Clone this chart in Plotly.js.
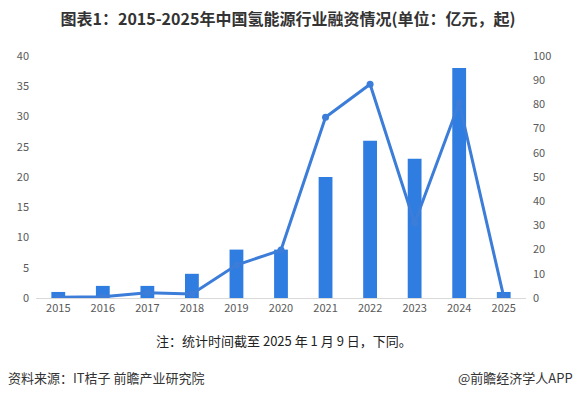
<!DOCTYPE html>
<html><head><meta charset="utf-8">
<script src="https://cdn.plot.ly/plotly-3.0.1.min.js"></script>
<style>html,body{margin:0;padding:0;background:#fff;}#chart{width:576px;height:397px;}</style>
</head><body><div id="chart"></div>
<script>
const years = ['2015','2016','2017','2018','2019','2020','2021','2022','2023','2024','2025'];
const counts = [1, 2, 2, 4, 8, 8, 20, 26, 23, 38, 1];          // 起 (left axis, bars)
const amounts = [0.3, 0.5, 2.2, 1.7, 13.6, 19.8, 74.7, 88.3, 31, 80.6, 0.5]; // 亿元 (right axis, line)
const leftTicks = [0,5,10,15,20,25,30,35,40];
const rightTicks = [0,10,20,30,40,50,60,70,80,90,100];

const tickFont = {family:'"Noto Sans CJK SC", "DejaVu Sans", sans-serif', size:11, color:'#595959'};

const data = [
  {type:'bar', x:years, y:counts, yaxis:'y', marker:{color:'#2F7DE1'}, width:0.31, hoverinfo:'none'},
  {type:'scatter', mode:'lines+markers', x:years, y:amounts, yaxis:'y2',
   line:{color:'#3C7DD9', width:3}, marker:{color:'#3C7DD9', size:7}, hoverinfo:'none'}
];
const layout = {
  width:576, height:397,
  margin:{l:36, r:50, t:56, b:99},
  paper_bgcolor:'#fff', plot_bgcolor:'#fff',
  showlegend:false,
  bargap:0.69,
  title:{text:'<b>图表1：2015-2025年中国氢能源行业融资情况(单位：亿元，起)</b>',
    font:{family:'"Noto Sans CJK SC", sans-serif', size:16, color:'#333'}, x:0.5, xanchor:'center', y:0.952, yanchor:'middle'},
  xaxis:{type:'category', tickfont:tickFont, showgrid:false, showline:true, linecolor:'#D9D9D9', linewidth:1,
    ticks:'', range:[-0.5,10.5], zeroline:false},
  yaxis:{range:[0,40], tickvals:leftTicks, tickfont:tickFont, showgrid:false, zeroline:false, showline:false, ticks:'', ticklabelstandoff:6},
  yaxis2:{range:[0,100], tickvals:rightTicks, overlaying:'y', side:'right', tickfont:tickFont, showgrid:false, zeroline:false, showline:false, ticks:'', ticklabelstandoff:6},
  annotations:[
    {text:'注：统计时间截至 2025 年 1 月 9 日，下同。', xref:'paper', yref:'paper', x:0.5, y:-0.175, xanchor:'center', yanchor:'middle', showarrow:false,
      font:{family:'"Noto Sans CJK SC", sans-serif', size:13, color:'#222'}, xshift:3},
    {text:'资料来源：IT桔子 前瞻产业研究院', xref:'paper', yref:'paper', x:0, y:-0.33, xanchor:'left', yanchor:'middle', showarrow:false, xshift:-30,
      font:{family:'"Noto Sans CJK SC", sans-serif', size:13, color:'#333'}},
    {text:'@前瞻经济学人APP', xref:'paper', yref:'paper', x:1, y:-0.33, xanchor:'right', yanchor:'middle', showarrow:false, xshift:49,
      font:{family:'"Noto Sans CJK SC", sans-serif', size:13, color:'#333'}}
  ]
};
Plotly.newPlot('chart', data, layout, {displayModeBar:false, staticPlot:true});
</script></body></html>
